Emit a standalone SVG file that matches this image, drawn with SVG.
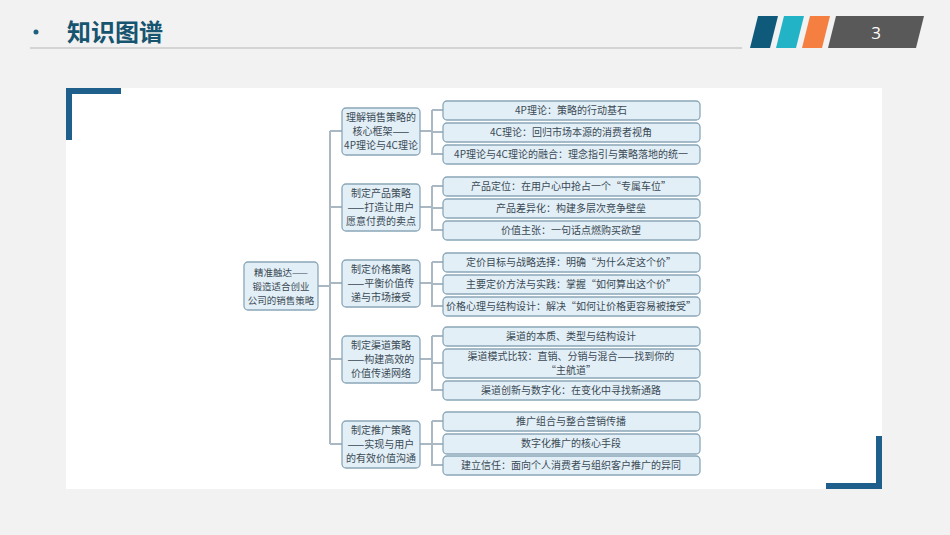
<svg xmlns="http://www.w3.org/2000/svg" width="950" height="535" viewBox="0 0 950 535">
<style>
.t{font-family:"Noto Sans CJK SC","Liberation Sans",sans-serif;fill:#3a4a55;text-anchor:middle}
.b{fill:#e3eff7;stroke:#8aa6b8;stroke-width:1.3}
.c{fill:none;stroke:#a9b8c2;stroke-width:2}
.s{font-size:10px}.m{font-size:10px}.r{font-size:9.5px}
</style>
<rect width="950" height="535" fill="#f2f2f2"/>
<circle cx="36" cy="32" r="2.5" fill="#1f5f7f"/>
<text x="67" y="41" style="font-family:'Noto Sans CJK SC',sans-serif;font-weight:bold;font-size:24px;fill:#16546f">知识图谱</text>
<line x1="30" y1="48" x2="742" y2="48" stroke="#b5b5b5" stroke-width="1.2"/>
<polygon points="758,16 778,16 770,48 750,48" fill="#0f5a7a"/>
<polygon points="784,16 804,16 796,48 776,48" fill="#22b3c6"/>
<polygon points="810,16 830,16 822,48 802,48" fill="#f47f40"/>
<polygon points="836,16 924,16 916,48 828,48" fill="#595959"/>
<text x="876" y="39" style="font-family:'Open Sans',sans-serif;font-size:17px;fill:#fff;text-anchor:middle">3</text>
<rect x="66" y="88" width="816" height="401" fill="#fff"/>
<path d="M69,140 V91 H121" fill="none" stroke="#1f5f8b" stroke-width="6"/>
<path d="M879,436 V486 H826" fill="none" stroke="#1f5f8b" stroke-width="6"/>
<g id="connectors" class="c">
<path d="M318,286 H330 M330,131 V444 M330,131 H342 M330,207 H342 M330,283 H342 M330,359 H342 M330,444 H342"/>
<path d="M420,131 H432 M432,110 V154 H443 M432,110 H443 M432,132 H443"/>
<path d="M420,207 H432 M432,186 V230 H443 M432,186 H443 M432,208 H443"/>
<path d="M420,283 H432 M432,262 V306 H443 M432,262 H443 M432,284 H443"/>
<path d="M420,359 H432 M432,336 V390 H443 M432,336 H443 M432,363 H443"/>
<path d="M420,444 H432 M432,421 V465 H443 M432,421 H443 M432,444 H443"/>
</g>
<g id="root"><rect class="b" x="244" y="262" width="74" height="48" rx="4"/><text class="t r" x="281" y="275.5">精准触达——</text><text class="t r" x="281" y="289.5">锻造适合创业</text><text class="t r" x="281" y="303.5">公司的销售策略</text></g>
<g id="n1"><rect class="b" x="342" y="108" width="78" height="47" rx="4"/><text class="t m" x="381" y="121">理解销售策略的</text><text class="t m" x="381" y="135">核心框架——</text><text class="t m" x="381" y="149">4P理论与4C理论</text></g>
<g id="n2"><rect class="b" x="342" y="184" width="78" height="47" rx="4"/><text class="t m" x="381" y="197">制定产品策略</text><text class="t m" x="381" y="211">——打造让用户</text><text class="t m" x="381" y="225">愿意付费的卖点</text></g>
<g id="n3"><rect class="b" x="342" y="260" width="78" height="47" rx="4"/><text class="t m" x="381" y="273">制定价格策略</text><text class="t m" x="381" y="287">——平衡价值传</text><text class="t m" x="381" y="301">递与市场接受</text></g>
<g id="n4"><rect class="b" x="342" y="336" width="78" height="47" rx="4"/><text class="t m" x="381" y="349">制定渠道策略</text><text class="t m" x="381" y="363">——构建高效的</text><text class="t m" x="381" y="377">价值传递网络</text></g>
<g id="n5"><rect class="b" x="342" y="421" width="78" height="47" rx="4"/><text class="t m" x="381" y="434">制定推广策略</text><text class="t m" x="381" y="448">——实现与用户</text><text class="t m" x="381" y="462">的有效价值沟通</text></g>
<g id="l11"><rect class="b" x="443" y="101" width="257" height="19" rx="4"/><text class="t s" x="571" y="114">4P理论：策略的行动基石</text></g>
<g id="l12"><rect class="b" x="443" y="123" width="257" height="19" rx="4"/><text class="t s" x="571" y="136">4C理论：回归市场本源的消费者视角</text></g>
<g id="l13"><rect class="b" x="443" y="145" width="257" height="19" rx="4"/><text class="t s" x="571" y="158">4P理论与4C理论的融合：理念指引与策略落地的统一</text></g>
<g id="l21"><rect class="b" x="443" y="177" width="257" height="19" rx="4"/><text class="t s" x="571" y="190">产品定位：在用户心中抢占一个“专属车位”</text></g>
<g id="l22"><rect class="b" x="443" y="199" width="257" height="19" rx="4"/><text class="t s" x="571" y="212">产品差异化：构建多层次竞争壁垒</text></g>
<g id="l23"><rect class="b" x="443" y="221" width="257" height="19" rx="4"/><text class="t s" x="571" y="234">价值主张：一句话点燃购买欲望</text></g>
<g id="l31"><rect class="b" x="443" y="253" width="257" height="19" rx="4"/><text class="t s" x="571" y="266">定价目标与战略选择：明确“为什么定这个价”</text></g>
<g id="l32"><rect class="b" x="443" y="275" width="257" height="19" rx="4"/><text class="t s" x="571" y="288">主要定价方法与实践：掌握“如何算出这个价”</text></g>
<g id="l33"><rect class="b" x="443" y="297" width="257" height="19" rx="4"/><text class="t s" x="571" y="310">价格心理与结构设计：解决“如何让价格更容易被接受”</text></g>
<g id="l41"><rect class="b" x="443" y="327" width="257" height="19" rx="4"/><text class="t s" x="571" y="340">渠道的本质、类型与结构设计</text></g>
<g id="l42"><rect class="b" x="443" y="349" width="257" height="29" rx="4"/><text class="t s" x="571" y="360">渠道模式比较：直销、分销与混合——找到你的</text><text class="t s" x="571" y="374">“主航道”</text></g>
<g id="l43"><rect class="b" x="443" y="381" width="257" height="19" rx="4"/><text class="t s" x="571" y="394">渠道创新与数字化：在变化中寻找新通路</text></g>
<g id="l51"><rect class="b" x="443" y="412" width="257" height="19" rx="4"/><text class="t s" x="571" y="425">推广组合与整合营销传播</text></g>
<g id="l52"><rect class="b" x="443" y="434" width="257" height="20" rx="4"/><text class="t s" x="571" y="447">数字化推广的核心手段</text></g>
<g id="l53"><rect class="b" x="443" y="456" width="257" height="19" rx="4"/><text class="t s" x="571" y="469">建立信任：面向个人消费者与组织客户推广的异同</text></g>
</svg>
